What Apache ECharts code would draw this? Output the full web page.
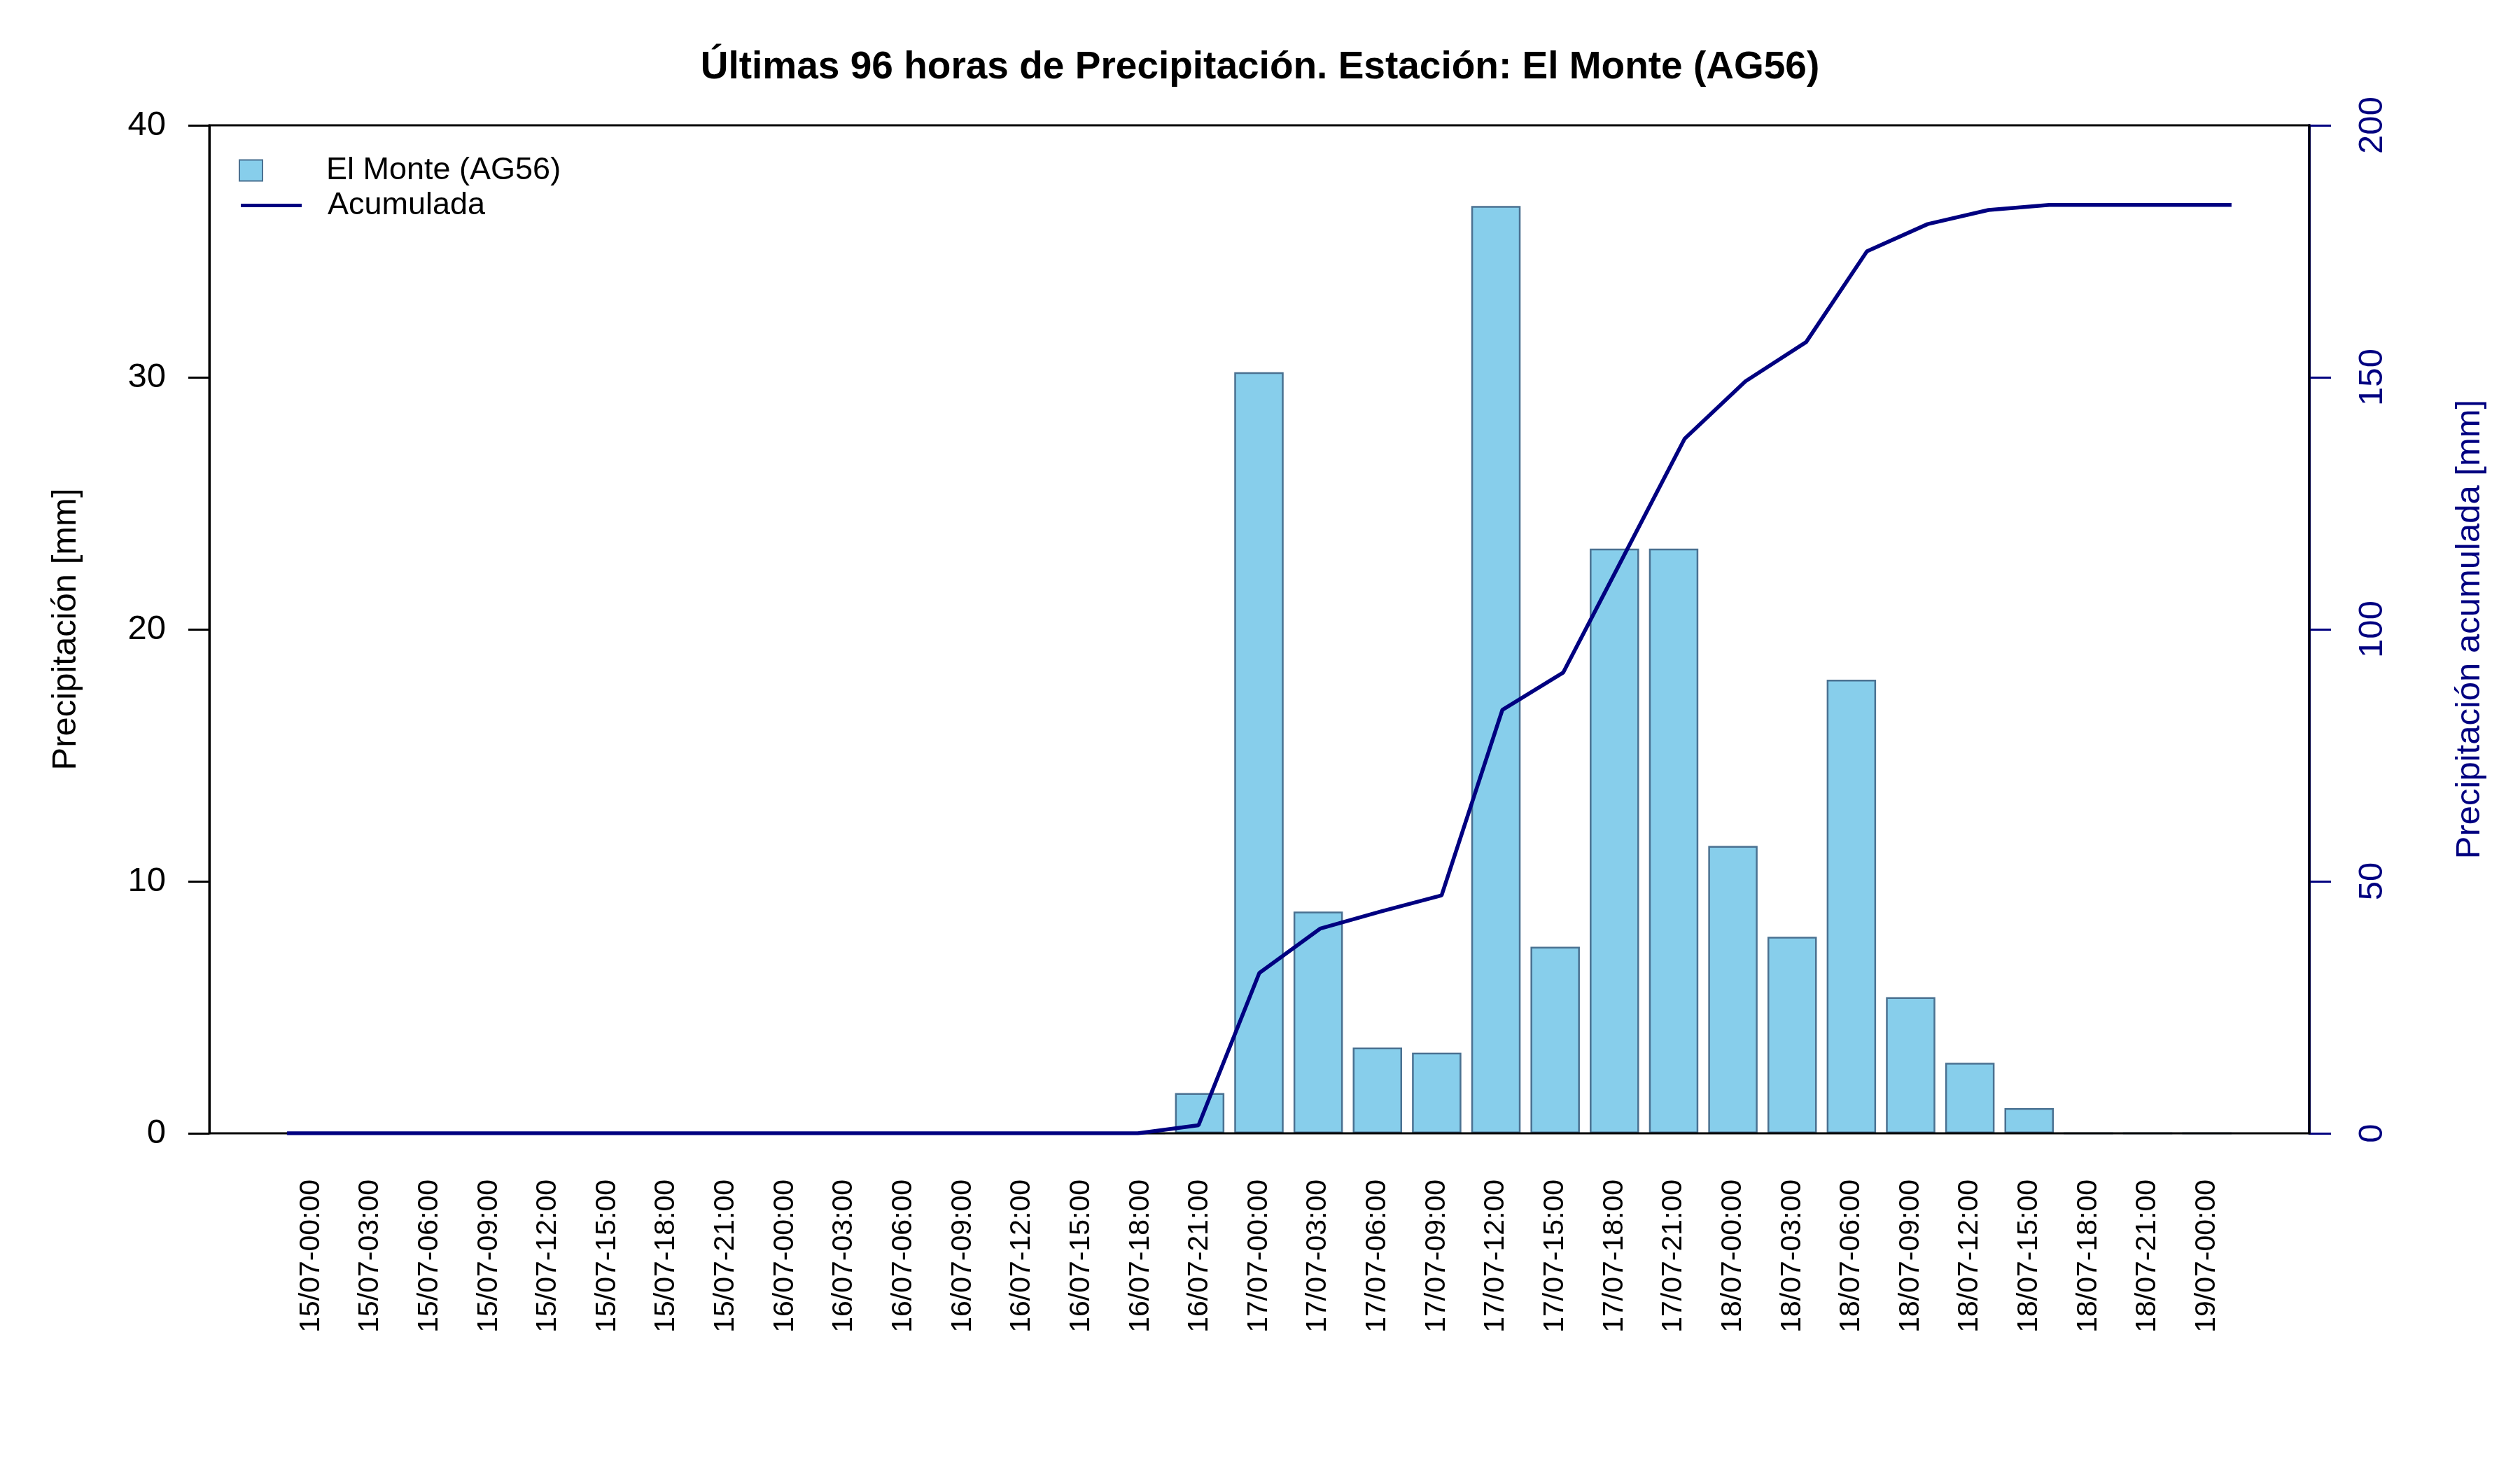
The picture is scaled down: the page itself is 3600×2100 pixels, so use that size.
<!DOCTYPE html>
<html>
<head>
<meta charset="utf-8">
<script src="https://cdn.jsdelivr.net/npm/echarts@6/dist/echarts.min.js"></script>
<style>
  html, body { margin: 0; padding: 0; background: #fff; }
  #chart { width: 3600px; height: 2100px; }
</style>
</head>
<body>
<div id="chart"></div>
<script>
// etiquetas cada 3 horas
const timeLabels = [
  '15/07-00:00', '15/07-03:00', '15/07-06:00', '15/07-09:00', '15/07-12:00', '15/07-15:00', '15/07-18:00', '15/07-21:00',
  '16/07-00:00', '16/07-03:00', '16/07-06:00', '16/07-09:00', '16/07-12:00', '16/07-15:00', '16/07-18:00', '16/07-21:00',
  '17/07-00:00', '17/07-03:00', '17/07-06:00', '17/07-09:00', '17/07-12:00', '17/07-15:00', '17/07-18:00', '17/07-21:00',
  '18/07-00:00', '18/07-03:00', '18/07-06:00', '18/07-09:00', '18/07-12:00', '18/07-15:00', '18/07-18:00', '18/07-21:00',
  '19/07-00:00'
];

// precipitación en mm
const precipitacion = [
  0, 0, 0, 0, 0, 0, 0, 0,
  0, 0, 0, 0, 0, 0, 0, 1.6,
  30.2, 8.8, 3.4, 3.2, 36.8, 7.4, 23.2, 23.2,
  11.4, 7.8, 18.0, 5.4, 2.8, 1.0, 0, 0,
  0
];

// precipitación acumulada en mm
const acumulada = [
  0, 0, 0, 0, 0, 0, 0, 0,
  0, 0, 0, 0, 0, 0, 0, 1.6,
  31.8, 40.6, 44.0, 47.2, 84.0, 91.4, 114.6, 137.8,
  149.2, 157.0, 175.0, 180.4, 183.2, 184.2, 184.2, 184.2,
  184.2
];

const leftTicks = [0, 10, 20, 30, 40];
const rightTicks = [0, 50, 100, 150, 200];

const FONT = '"Liberation Sans", Arial, sans-serif';
const NAVY = '#000080';

const chart = echarts.init(document.getElementById('chart'), null, { renderer: 'canvas' });

chart.setOption({
  backgroundColor: '#ffffff',
  animation: false,
  title: {
    text: 'Últimas 96 horas de Precipitación. Estación: El Monte (AG56)',
    left: 'center',
    top: 64,
    textStyle: { fontFamily: FONT, fontSize: 55, fontWeight: 'bold', color: '#000' },
  },
  legend: [
    {
      data: ['El Monte (AG56)'],
      left: 336,
      top: 216,
      itemWidth: 33,
      itemHeight: 30,
      icon: 'rect',
      selectedMode: false,
      textStyle: { fontFamily: FONT, fontSize: 45, color: '#000', padding: [0, 0, 0, 86] },
    },
    {
      data: ['Acumulada'],
      left: 339,
      top: 266,
      itemWidth: 87,
      itemHeight: 5,
      icon: 'rect',
      selectedMode: false,
      textStyle: { fontFamily: FONT, fontSize: 45, color: '#000', padding: [0, 0, 0, 32] },
    },
  ],
  grid: [
    // caja del gráfico (por encima de las barras, sin fondo)
    { left: 299, top: 179, width: 3000, height: 1440, show: true, borderColor: '#000', borderWidth: 3, z: 3 },
    // zona de barras
    { left: 402, top: 179, width: 2793, height: 1440 },
  ],
  xAxis: [
    { type: 'value', gridIndex: 0, min: -1.28, max: 33.28, show: false },
    {
      type: 'category',
      gridIndex: 1,
      data: timeLabels,
      boundaryGap: true,
      axisLine: { show: false },
      axisTick: { show: false },
      axisLabel: { rotate: 90, margin: 66, fontFamily: FONT, fontSize: 41, color: '#000' },
    },
  ],
  yAxis: [
    {
      type: 'value',
      gridIndex: 0,
      position: 'left',
      min: leftTicks[0],
      max: leftTicks[leftTicks.length - 1],
      interval: 10,
      name: 'Precipitación [mm]',
      nameLocation: 'middle',
      nameGap: 180,
      nameTextStyle: { fontFamily: FONT, fontSize: 49, color: '#000' },
      axisLine: { show: true, onZero: false, lineStyle: { color: '#000', width: 3 } },
      axisTick: { show: true, length: 30, lineStyle: { color: '#000', width: 3 } },
      axisLabel: { margin: 62, fontFamily: FONT, fontSize: 49, color: '#000' },
      splitLine: { show: false },
    },
    {
      type: 'value',
      gridIndex: 0,
      position: 'right',
      min: rightTicks[0],
      max: rightTicks[rightTicks.length - 1],
      interval: 50,
      name: 'Precipitación acumulada [mm]',
      nameLocation: 'middle',
      nameRotate: 90,
      nameGap: 205,
      nameTextStyle: { fontFamily: FONT, fontSize: 49, color: NAVY },
      axisLine: { show: true, onZero: false, lineStyle: { color: NAVY, width: 4 } },
      axisTick: { show: true, length: 31, lineStyle: { color: NAVY, width: 3 } },
      axisLabel: { rotate: 90, margin: 66, fontFamily: FONT, fontSize: 49, color: NAVY },
      splitLine: { show: false },
    },
    { type: 'value', gridIndex: 1, min: 0, max: 40, show: false },
  ],
  series: [
    {
      name: 'El Monte (AG56)',
      type: 'bar',
      xAxisIndex: 1,
      yAxisIndex: 2,
      data: precipitacion,
      barWidth: '83.3%',
      itemStyle: { color: '#87CEEB', borderColor: '#4A7191', borderWidth: 2.5 },
      z: 2,
    },
    {
      name: 'Acumulada',
      type: 'line',
      xAxisIndex: 0,
      yAxisIndex: 1,
      data: acumulada.map((v, i) => [i, v]),
      symbol: 'none',
      lineStyle: { color: NAVY, width: 5.5 },
      itemStyle: { color: NAVY },
      z: 4,
    },
  ],
});
</script>
</body>
</html>
